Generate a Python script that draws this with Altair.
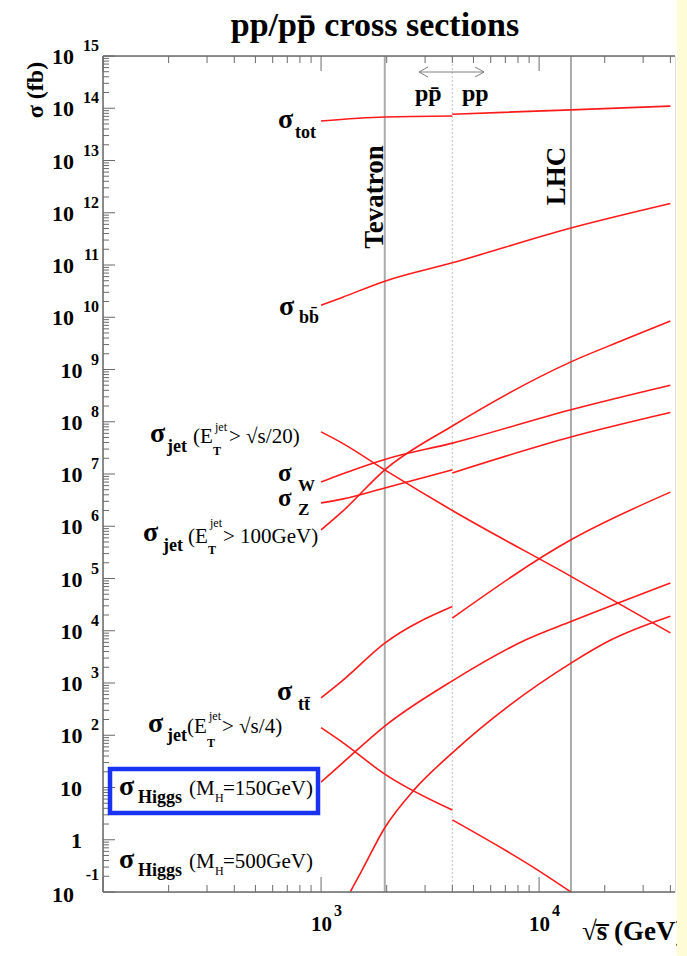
import altair as alt
import pandas as pd

# ---------------- data ----------------
# sqrt(s) in GeV, sigma in fb
tot_s_ppbar = [1000, 1960, 4000]
tot_ppbar = [5.7e13, 6.8e13, 7.1e13]
tot_s_pp = [4000, 14000, 40000]
tot_pp = [7.7e13, 9.3e13, 1.1e14]

bb_s = [1000, 1250, 1960, 4000, 14000, 40000]
bb = [1.7e10, 2.4e10, 4.9e10, 1.1e11, 5.1e11, 1.5e12]

jet100_s = [1000, 1250, 1960, 4000, 14000, 24500, 40000]
jet100 = [8.5e5, 1.9e6, 1.2e7, 8.3e7, 1.4e9, 3.7e9, 8.5e9]

w_s = [1000, 1250, 1960, 4000, 14000, 40000]
w = [7.0e6, 1.0e7, 1.9e7, 3.9e7, 1.7e8, 5.0e8]

z_s_ppbar = [1000, 1250, 1960, 4000]
z_ppbar = [2.8e6, 3.3e6, 5.4e6, 1.2e7]
z_s_pp = [4000, 14000, 40000]
z_pp = [1.05e7, 5.1e7, 1.5e8]

jet20_s = [1000, 1250, 1960, 4000, 14000, 40000]
jet20 = [6.4e7, 3.9e7, 1.2e7, 2.0e6, 1.1e5, 9.1e3]

tt_s_ppbar = [1000, 1250, 1960, 4000]
tt_ppbar = [5.2e2, 1.1e3, 5.8e3, 2.9e4]
tt_s_pp = [4000, 14000, 40000]
tt_pp = [1.75e4, 5.5e5, 4.5e6]

jet4_s_ppbar = [1000, 1250, 1960, 4000]
jet4_ppbar = [140, 74, 18, 3.7]
jet4_s_pp = [4000, 9500, 14000]
jet4_pp = [2.4, 0.29, 0.1]

h150_s = [1000, 1250, 1960, 4000, 8700, 14000, 40000]
h150 = [12.7, 29, 150, 1.1e3, 6.7e3, 1.5e4, 8.2e4]

h500_s = [1360, 1540, 1960, 2670, 4000, 14000, 21400, 40000]
h500 = [0.1, 0.26, 1.7, 9.0, 46, 2.4e3, 6.7e3, 1.9e4]

colliders = ["Tevatron", "LHC"]
collider_s = [1960, 14000]
switch_s = [4000]

title_text = "pp/pp\u0304 cross sections"
y_title = "\u03c3 (fb)"
x_title = "\u221as\u0305 (GeV)"
y_exponents = list(range(-1, 16))
x_exponents = [3, 4]

# ---------------- assemble ----------------
segments = [
    ("tot", "ppbar", tot_s_ppbar, tot_ppbar), ("tot", "pp", tot_s_pp, tot_pp),
    ("bb", "all", bb_s, bb),
    ("jet100", "all", jet100_s, jet100),
    ("W", "all", w_s, w),
    ("Z", "ppbar", z_s_ppbar, z_ppbar), ("Z", "pp", z_s_pp, z_pp),
    ("jet20", "all", jet20_s, jet20),
    ("tt", "ppbar", tt_s_ppbar, tt_ppbar), ("tt", "pp", tt_s_pp, tt_pp),
    ("jet4", "ppbar", jet4_s_ppbar, jet4_ppbar), ("jet4", "pp", jet4_s_pp, jet4_pp),
    ("h150", "all", h150_s, h150),
    ("h500", "all", h500_s, h500),
]
rows = []
for name, seg, ss, sig in segments:
    for s, v in zip(ss, sig):
        rows.append({"key": name + "_" + seg, "s": s, "sigma": v})
curves = pd.DataFrame(rows)

FONT = "Liberation Serif"
OX, OY = 103, 56          # plot origin in the page
W, H = 572, 836
XS = alt.Scale(type="log", domain=[100, 42000], nice=False)
YS = alt.Scale(type="log", domain=[0.1, 1e15], nice=False)
AX = "#6a6a6a"
ONE = pd.DataFrame({"a": [0]})

layers = []

# collider lines
vl = pd.DataFrame({"s": collider_s})
layers.append(alt.Chart(vl).mark_rule(color="#ababab", strokeWidth=2).encode(
    x=alt.X("s:Q", scale=XS, axis=None), y=alt.value(0), y2=alt.value(H)))
sw = pd.DataFrame({"s": switch_s})
layers.append(alt.Chart(sw).mark_rule(color="#c4c4c4", strokeWidth=1, strokeDash=[2, 2]).encode(
    x=alt.X("s:Q", scale=XS, axis=None), y=alt.value(0), y2=alt.value(H)))

# curves
layers.append(alt.Chart(curves).mark_line(color="#ff1a1a", strokeWidth=1.6, clip=True,
                                          interpolate="monotone").encode(
    x=alt.X("s:Q", scale=XS, axis=None),
    y=alt.Y("sigma:Q", scale=YS, axis=None),
    detail="key:N"))

# axis lines
layers.append(alt.Chart(ONE).mark_rule(color=AX, strokeWidth=1.5).encode(
    x=alt.value(0), y=alt.value(0), y2=alt.value(H)))
layers.append(alt.Chart(ONE).mark_rule(color=AX, strokeWidth=1.5).encode(
    x=alt.value(0), x2=alt.value(W), y=alt.value(H)))
layers.append(alt.Chart(ONE).mark_rule(color=AX, strokeWidth=1.5).encode(
    x=alt.value(0), x2=alt.value(W), y=alt.value(0)))

# ticks
yt = [m * 10.0 ** e for e in range(-1, 15) for m in range(1, 10)] + [1e15]
ytd = pd.DataFrame({"v": yt, "major": [(i % 9 == 0) for i in range(len(yt))]})
for maj, ln in [(True, 12), (False, 6)]:
    layers.append(alt.Chart(ytd[ytd.major == maj]).mark_rule(color=AX, strokeWidth=1).encode(
        y=alt.Y("v:Q", scale=YS, axis=None), x=alt.value(0), x2=alt.value(ln)))
xt = [m * 10.0 ** e for e in range(2, 5) for m in range(1, 10) if m * 10.0 ** e <= 42000]
xtd = pd.DataFrame({"v": xt, "major": [v in (100.0, 1000.0, 10000.0) for v in xt]})
for maj, ln in [(True, 15), (False, 7)]:
    d = xtd[xtd.major == maj]
    layers.append(alt.Chart(d).mark_rule(color=AX, strokeWidth=1).encode(
        x=alt.X("v:Q", scale=XS, axis=None), y=alt.value(H), y2=alt.value(H - ln)))
    layers.append(alt.Chart(d).mark_rule(color=AX, strokeWidth=1).encode(
        x=alt.X("v:Q", scale=XS, axis=None), y=alt.value(0), y2=alt.value(ln)))


def T(s, x, y, size, weight="bold", align="left", baseline="alphabetic", angle=0, color="black"):
    return alt.Chart(ONE).mark_text(text=s, font=FONT, fontSize=size, fontWeight=weight,
                                    align=align, baseline=baseline, angle=angle, color=color).encode(
        x=alt.value(x - OX), y=alt.value(y - OY))


# y tick labels
for e in y_exponents:
    if e == 0:
        base, ex = "1", ""
    elif e == 1:
        base, ex = "10", ""
    else:
        base, ex = "10", str(e)
    xr = 99 - 8.5 * len(ex) - 8 if ex else 82
    dyb = 3 if e == -1 else 1
    dye = -17 if e == -1 else -10
    layers.append(alt.Chart(ONE).mark_text(text=base, font=FONT, fontSize=22, fontWeight="bold",
                                           align="right", baseline="middle", dy=dyb).encode(
        x=alt.value(xr - OX), y=alt.YDatum(10.0 ** e, scale=YS, axis=None)))
    if ex:
        layers.append(alt.Chart(ONE).mark_text(text=ex, font=FONT, fontSize=16, fontWeight="bold",
                                               align="right", baseline="middle", dy=dye).encode(
            x=alt.value(99 - OX), y=alt.YDatum(10.0 ** e, scale=YS, axis=None)))

# x tick labels
for e in x_exponents:
    layers.append(alt.Chart(ONE).mark_text(text="10", font=FONT, fontSize=21, fontWeight="bold",
                                           align="right", baseline="middle", dx=11).encode(
        x=alt.XDatum(10.0 ** e, scale=XS, axis=None), y=alt.value(925 - OY)))
    layers.append(alt.Chart(ONE).mark_text(text=str(e), font=FONT, fontSize=16, fontWeight="bold",
                                           align="left", baseline="middle", dx=13).encode(
        x=alt.XDatum(10.0 ** e, scale=XS, axis=None), y=alt.value(911 - OY)))

# titles
layers.append(T(title_text, 375, 36, 34, align="center"))
layers.append(T(y_title, 36, 90, 24, align="center", baseline="middle", angle=270))
layers.append(T(x_title, 582, 932, 27, baseline="middle"))

# collider / beam annotations
layers.append(T(colliders[0], 375, 197, 27, align="center", baseline="middle", angle=270))
layers.append(T(colliders[1], 557, 176, 27, align="center", baseline="middle", angle=270))
layers.append(T("pp\u0304", 415, 101, 24))
layers.append(T("pp", 462, 101, 24))
for (x1, y1, x2, y2) in [(419, 72, 484, 72), (419, 72, 428, 67), (419, 72, 428, 77),
                         (484, 72, 475, 67), (484, 72, 475, 77)]:
    layers.append(alt.Chart(ONE).mark_rule(color="#808080", strokeWidth=1).encode(
        x=alt.value(x1 - OX), x2=alt.value(x2 - OX), y=alt.value(y1 - OY), y2=alt.value(y2 - OY)))

# curve labels
SIG, SUB, PAR, TINY = 28, 18, 21, 12
S = "\u03c3"
lab = []
lab += [(S, 278, 128, SIG, "bold"), ("tot", 295, 138, SUB, "bold")]
lab += [(S, 279, 315, SIG, "bold"), ("bb\u0304", 299, 323, SUB, "bold")]
lab += [(S, 150, 442, SIG, "bold"), ("jet", 167, 452, SUB, "bold"), ("(E", 193, 443, PAR, "normal"),
        ("jet", 215, 431, TINY, "normal"), ("T", 213, 455, TINY, "bold"), ("> \u221as/20)", 229, 443, PAR, "normal")]
lab += [(S, 278, 481, 25, "bold"), ("W", 298, 491, 17, "bold")]
lab += [(S, 278, 506, 25, "bold"), ("Z", 298, 515, 17, "bold")]
lab += [(S, 143, 541, SIG, "bold"), ("jet", 163, 551, SUB, "bold"), ("(E", 188, 543, PAR, "normal"),
        ("jet", 210, 527, TINY, "normal"), ("T", 208, 554, TINY, "bold"), ("> 100GeV)", 223, 543, PAR, "normal")]
lab += [(S, 277, 700, SIG, "bold"), ("tt\u0304", 298, 710, SUB, "bold")]
lab += [(S, 148, 732, SIG, "bold"), ("jet", 167, 741, SUB, "bold"), ("(E", 187, 733, PAR, "normal"),
        ("jet", 209, 720, TINY, "normal"), ("T", 207, 747, TINY, "bold"), ("> \u221as/4)", 222, 733, PAR, "normal")]
lab += [(S, 119, 795, SIG, "bold"), ("Higgs", 138, 803, SUB, "bold"), ("(M", 189, 795, PAR, "normal"),
        ("H", 215, 802, TINY, "normal"), ("=150GeV)", 223, 795, PAR, "normal")]
lab += [(S, 119, 868, SIG, "bold"), ("Higgs", 138, 876, SUB, "bold"), ("(M", 189, 868, PAR, "normal"),
        ("H", 215, 875, TINY, "normal"), ("=500GeV)", 223, 868, PAR, "normal")]
for (t, x, y, sz, wt) in lab:
    layers.append(T(t, x, y, sz, weight=wt))

# highlight box
layers.append(alt.Chart(ONE).mark_rect(fillOpacity=0, stroke="#1a33f0", strokeWidth=4.5).encode(
    x=alt.value(110 - OX), x2=alt.value(318 - OX), y=alt.value(769 - OY), y2=alt.value(813 - OY)))

# right yellow strip
layers.append(alt.Chart(ONE).mark_rect(color="#fefcd6").encode(
    x=alt.value(677 - OX), x2=alt.value(690 - OX), y=alt.value(-OY - 2), y2=alt.value(960 - OY)))

chart = alt.layer(*layers).properties(
    width=W, height=H,
    padding={"left": OX, "top": OY, "right": 687 - OX - W, "bottom": 956 - OY - H},
    autosize=alt.AutoSizeParams(type="none"),
).configure_view(stroke=None).configure(background="white")

chart.save("out.html", embed_options={"renderer": "svg", "actions": False})
